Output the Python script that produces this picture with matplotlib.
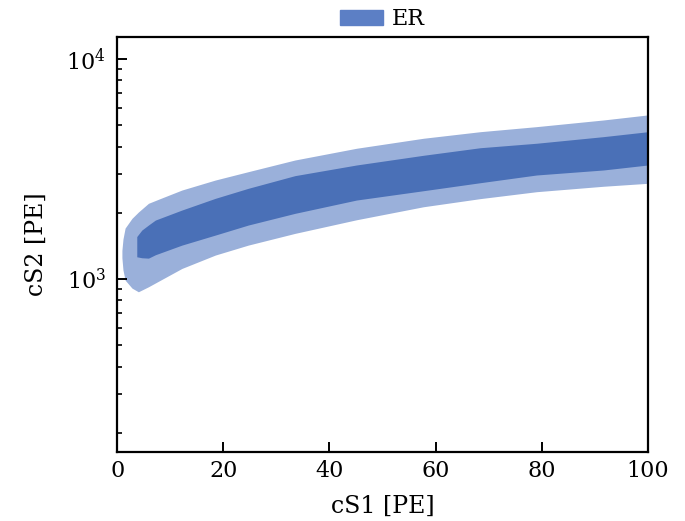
import numpy as np
import matplotlib
matplotlib.use('Agg')
import matplotlib.pyplot as plt
from matplotlib.patches import Patch

plt.rcParams['font.family'] = 'DejaVu Serif'
plt.rcParams['mathtext.fontset'] = 'dejavuserif'

# outer (2 sigma) band of the ER population
cs1_outer = [0.9, 1.1, 1.5, 2.8, 4.0, 5.9, 8.0, 12.2, 18.5, 24.7, 33.5, 45.1, 57.7, 68.4, 79.0, 91.6, 100]
cs2_outer_hi = [1350, 1520, 1705, 1888, 2016, 2209, 2315, 2538, 2818, 3075, 3474, 3928, 4361, 4671, 4924, 5280, 5567]
cs2_outer_lo = [1250, 1100, 990, 910, 876, 923, 984, 1118, 1286, 1427, 1613, 1860, 2131, 2320, 2494, 2640, 2723]

# inner (1 sigma) band
cs1_inner = [3.7, 4.65, 5.9, 7.2, 12.2, 18.5, 24.7, 33.5, 45.1, 57.7, 68.4, 79.0, 91.6, 100]
cs2_inner_hi = [1560, 1670, 1760, 1854, 2059, 2327, 2584, 2950, 3298, 3650, 3950, 4139, 4435, 4671]
cs2_inner_lo = [1263, 1250, 1245, 1290, 1427, 1585, 1760, 1989, 2286, 2520, 2740, 2970, 3130, 3298]

light_blue = '#9ab0da'
dark_blue = '#4a70b7'
legend_blue = '#5c7fc5'

fig = plt.figure(figsize=(6.85, 5.21), dpi=100)
ax = fig.add_axes([0.171, 0.1324, 0.775, 0.797])

ax.fill_between(cs1_outer, cs2_outer_lo, cs2_outer_hi, color=light_blue, lw=0)
ax.fill_between(cs1_inner, cs2_inner_lo, cs2_inner_hi, color=dark_blue, lw=0)

ax.set_yscale('log')
ax.set_xlim(0, 100)
ax.set_ylim(164, 12600)
ax.set_xticks([0, 20, 40, 60, 80, 100])

ax.set_xlabel('cS1 [PE]', fontsize=17)
ax.set_ylabel('cS2 [PE]', fontsize=17)
ax.xaxis.set_label_coords(0.5, -0.104)
ax.yaxis.set_label_coords(-0.13, 0.5)

ax.tick_params(which='both', direction='in', top=False, right=False, labelsize=16)
ax.tick_params(which='major', length=7.5, width=1.4)
ax.tick_params(axis='y', which='major', pad=8)
ax.tick_params(axis='x', which='major', pad=6)
ax.tick_params(which='minor', length=3.5, width=1.2)
ax.xaxis.set_minor_locator(matplotlib.ticker.NullLocator())
for s in ax.spines.values():
    s.set_linewidth(1.6)

handles = [Patch(color=legend_blue, label='ER')]
ax.legend(handles=handles, loc='lower center', bbox_to_anchor=(0.5, 1.0),
          frameon=False, fontsize=16, handlelength=1.95, handleheight=0.63,
          handletextpad=0.4, borderaxespad=0.0, borderpad=0.3)

fig.savefig('out.png', dpi=100)
